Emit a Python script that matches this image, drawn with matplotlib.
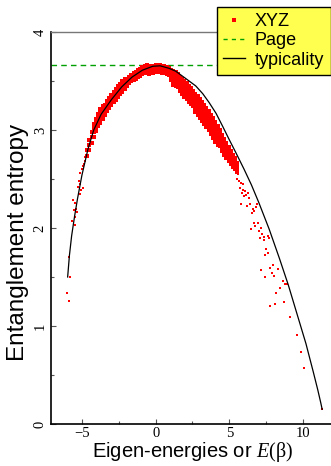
import matplotlib
matplotlib.use("Agg")
import matplotlib.pyplot as plt
from matplotlib.lines import Line2D
from matplotlib.ticker import MultipleLocator

# ---------------- data ----------------
page_value = 3.66

typ_E = [-5.97, -5.85, -5.7, -5.5, -5.3, -5.0, -4.6, -4.2, -3.7, -3.0, -2.3, -1.6,
         -0.9, -0.2, 0.3, 0.9, 1.36, 2.0, 2.72, 3.2, 3.63, 4.1, 4.54, 5.0, 5.44,
         6.0, 6.5, 7.0, 7.7, 8.4, 9.0, 9.6, 10.2, 10.7, 11.0, 11.2, 11.3]
typ_S = [1.50, 1.72, 1.92, 2.12, 2.30, 2.54, 2.80, 3.00, 3.16, 3.31, 3.44, 3.54,
         3.61, 3.65, 3.655, 3.63, 3.60, 3.53, 3.45, 3.37, 3.28, 3.17, 3.04, 2.90, 2.77,
         2.60, 2.44, 2.26, 1.99, 1.69, 1.42, 1.12, 0.82, 0.53, 0.35, 0.22, 0.15]

left_tail_E = [-6.03, -5.90, -5.78, -5.90, -5.65, -5.49, -5.46, -5.56, -5.33, -5.37,
               -5.58, -5.44, -5.28, -5.10, -5.05, -4.92, -5.22, -5.15, -5.10, -5.01,
               -4.92, -4.88, -4.81, -4.76, -4.69]
left_tail_S = [1.34, 1.26, 1.50, 1.70, 2.07, 2.03, 2.11, 2.18, 2.16, 2.19,
               2.29, 2.26, 2.42, 2.35, 2.39, 2.41, 2.48, 2.45, 2.56, 2.60,
               2.63, 2.65, 2.68, 2.72, 2.75]

band_E = [-4.65, -4.5, -4.35, -4.2, -4.05, -3.9, -3.75, -3.6, -3.45, -3.3, -3.15, -3.0,
          -2.85, -2.7, -2.55, -2.4, -2.25, -2.1, -1.95, -1.8, -1.65, -1.5, -1.35, -1.2,
          -1.05, -0.9, -0.75, -0.6, -0.45, -0.3, -0.15, 0.0, 0.15, 0.3, 0.45, 0.6,
          0.75, 0.9, 1.05, 1.2, 1.35, 1.5, 1.65, 1.8, 1.95, 2.1, 2.25, 2.4, 2.55, 2.7,
          2.85, 3.0, 3.15, 3.3, 3.45, 3.6, 3.75, 3.9, 4.05, 4.2, 4.35, 4.5, 4.65, 4.8,
          4.95, 5.1, 5.25, 5.4, 5.55]
band_S = [
    [2.80, 2.73],
    [2.90, 2.85, 2.80],
    [2.98, 2.93, 2.87],
    [3.06, 3.02, 2.98, 2.93],
    [3.11, 3.07, 3.03, 2.99],
    [3.16, 3.12, 3.08, 3.04],
    [3.215, 3.18, 3.145, 3.11, 3.075],
    [3.25, 3.215, 3.18, 3.145, 3.11],
    [3.26, 3.225, 3.19, 3.155],
    [3.30, 3.265, 3.23, 3.195],
    [3.33, 3.295, 3.26, 3.225],
    [3.36, 3.325, 3.29, 3.255],
    [3.39, 3.355, 3.32, 3.285],
    [3.415, 3.38, 3.345, 3.31],
    [3.445, 3.41, 3.375, 3.34],
    [3.47, 3.435, 3.40, 3.365],
    [3.497, 3.462, 3.427, 3.392],
    [3.52, 3.485, 3.45, 3.415],
    [3.523, 3.488, 3.453],
    [3.545, 3.51, 3.475],
    [3.565, 3.53, 3.495],
    [3.58, 3.545, 3.51],
    [3.595, 3.56, 3.525],
    [3.61, 3.575, 3.54],
    [3.625, 3.59, 3.555],
    [3.64, 3.605, 3.57],
    [3.648, 3.613, 3.578],
    [3.66, 3.625, 3.59],
    [3.643, 3.608, 3.573],
    [3.65, 3.615, 3.58],
    [3.656, 3.621, 3.586],
    [3.659, 3.624, 3.589],
    [3.66, 3.625, 3.59],
    [3.66, 3.625, 3.59],
    [3.656, 3.621, 3.586],
    [3.65, 3.615, 3.58],
    [3.643, 3.608, 3.573],
    [3.635, 3.60, 3.565],
    [3.612, 3.577, 3.542, 3.507],
    [3.60, 3.565, 3.53, 3.495, 3.46],
    [3.59, 3.555, 3.52, 3.485, 3.45],
    [3.575, 3.54, 3.505, 3.47, 3.435],
    [3.545, 3.508, 3.47, 3.433, 3.395],
    [3.525, 3.485, 3.445, 3.405, 3.365],
    [3.50, 3.46, 3.42, 3.38, 3.34],
    [3.475, 3.435, 3.395, 3.355, 3.315],
    [3.45, 3.41, 3.37, 3.33, 3.29],
    [3.425, 3.385, 3.345, 3.305, 3.265],
    [3.40, 3.36, 3.32, 3.28, 3.24],
    [3.37, 3.33, 3.29, 3.25, 3.21, 3.18],
    [3.345, 3.305, 3.265, 3.225, 3.185, 3.155],
    [3.315, 3.275, 3.235, 3.195, 3.155, 3.125],
    [3.29, 3.25, 3.21, 3.17, 3.13, 3.095],
    [3.255, 3.215, 3.175, 3.135, 3.095, 3.06],
    [3.22, 3.18, 3.14, 3.10, 3.06, 3.03],
    [3.19, 3.15, 3.11, 3.07, 3.03, 2.995],
    [3.155, 3.115, 3.075, 3.035, 2.995, 2.955],
    [3.12, 3.08, 3.04, 3.00, 2.96, 2.92],
    [3.08, 3.04, 3.00, 2.96, 2.92, 2.88],
    [3.04, 3.00, 2.96, 2.92, 2.88, 2.845],
    [2.995, 2.955, 2.915, 2.875, 2.835],
    [2.95, 2.91, 2.87, 2.83, 2.79],
    [2.91, 2.87, 2.83, 2.79, 2.75],
    [2.87, 2.83, 2.79, 2.75, 2.715],
    [2.83, 2.79, 2.75, 2.715, 2.68],
    [2.79, 2.74, 2.69, 2.65],
    [2.75, 2.70, 2.66, 2.62],
    [2.71, 2.67, 2.63, 2.60],
    [2.66, 2.62, 2.58],
]

right_tail_E = [5.44, 5.56, 5.51, 5.67, 5.78, 5.90, 5.74, 5.96, 6.05, 5.83,
                6.12, 6.24, 6.01, 6.35, 5.78, 6.19, 6.42, 6.58, 6.69, 6.51,
                6.80, 6.87, 6.69, 6.92, 6.74, 6.46, 7.14, 7.03, 7.19, 7.10,
                7.33, 7.60, 7.71, 7.37, 7.48, 7.60, 7.44, 7.14, 7.41, 7.78,
                7.94, 7.91, 8.00, 8.32, 8.62, 8.78, 8.89, 8.46, 8.14, 8.73,
                8.10, 7.73, 9.14, 9.57, 9.86, 10.10, 11.29]
right_tail_S = [2.56, 2.55, 2.50, 2.48, 2.46, 2.45, 2.41, 2.39, 2.38, 2.36,
                2.34, 2.36, 2.33, 2.31, 2.24, 2.22, 2.24, 2.19, 2.17, 2.15,
                2.21, 2.25, 2.05, 2.05, 2.02, 1.99, 2.00, 1.97, 1.94, 1.90,
                1.91, 1.92, 1.90, 1.88, 1.79, 1.75, 1.72, 1.57, 1.50, 1.59,
                1.62, 1.54, 1.51, 1.58, 1.46, 1.43, 1.43, 1.39, 1.34, 1.24,
                1.22, 1.20, 1.09, 0.91, 0.73, 0.57, 0.15]

x_ticks = [-5, 0, 5, 10]
x_tick_labels = ["\u22125", "0", "5", "10"]
y_ticks = [0, 1, 2, 3, 4]
labels = ["XYZ", "Page", "typicality"]

# ---------------- assemble scatter ----------------
band_pts_E = [e for e, col in zip(band_E, band_S) for _ in col]
band_pts_S = [s for col in band_S for s in col]

# ---------------- figure ----------------
plt.rcParams['mathtext.fontset'] = 'custom'
plt.rcParams['mathtext.rm'] = 'Liberation Serif'
plt.rcParams['mathtext.it'] = 'Liberation Serif:italic'

fig = plt.figure(figsize=(3.31, 4.66), dpi=100)
ax = fig.add_axes([51/331, 42/466, 280/331, 392/466])

red = '#ff0000'
green = '#00a000'

ax.axhline(page_value, color=green, lw=1.0, ls=(0, (4, 3)), zorder=1)
sty = dict(ls='none', marker='s', mew=0, color=red, zorder=2)
ax.plot(left_tail_E, left_tail_S, ms=2.1, **sty)
ax.plot(band_pts_E, band_pts_S, ms=2.6, **sty)
ax.plot(right_tail_E, right_tail_S, ms=2.1, **sty)
ax.plot(typ_E, typ_S, color='black', lw=0.9, zorder=3)

ax.set_xlim(-7.1, 11.9)
ax.set_ylim(0, 4)
ax.set_xticks(x_ticks)
ax.set_yticks(y_ticks)
ax.xaxis.set_minor_locator(MultipleLocator(2.5))
ax.yaxis.set_minor_locator(MultipleLocator(0.5))
ax.set_xticklabels(x_tick_labels)
ax.tick_params(which='both', direction='in', color='#555555', width=0.8)
ax.tick_params(which='major', length=3.5)
ax.tick_params(which='minor', length=2.5)
ax.tick_params(axis='x', pad=2, labelsize=10.5)
ax.tick_params(axis='y', pad=3, labelsize=10.5)
for lab in ax.get_xticklabels() + ax.get_yticklabels():
    lab.set_fontfamily('Liberation Serif')
for lab in ax.get_yticklabels():
    lab.set_rotation(90)
    lab.set_va('center')

ax.spines['right'].set_visible(False)
ax.spines['top'].set_color('#777777')
ax.spines['top'].set_linewidth(1.0)
ax.spines['left'].set_linewidth(1.2)
ax.spines['bottom'].set_linewidth(1.2)

fig.text(0.0725, 0.48, "Entanglement entropy", rotation=90, rotation_mode='anchor',
         ha='center', va='baseline', fontsize=17.5, family='Liberation Sans')
fig.text(0.5816, 0.019, r"Eigen-energies or $E\mathrm{(\beta)}$", ha='center',
         va='baseline', fontsize=14.5, family='Liberation Sans')

handles = [
    Line2D([], [], ls='none', marker='s', ms=2.2, mew=0, color=red),
    Line2D([], [], color=green, lw=1.0, ls=(0, (3, 3))),
    Line2D([], [], color='black', lw=1.0),
]
leg = ax.legend(handles, labels, loc='upper left', bbox_to_anchor=(217/331, 1 - 7/466),
                bbox_transform=fig.transFigure, borderaxespad=0, frameon=True,
                fancybox=False, framealpha=1, facecolor='#ffff50', edgecolor='black',
                prop={'family': 'Liberation Sans', 'size': 13}, handlelength=1.2,
                handletextpad=0.55, labelspacing=0.12, borderpad=0.35, numpoints=1)
leg.get_frame().set_linewidth(1.0)
leg.set_zorder(5)

fig.savefig("out.png", dpi=100)
